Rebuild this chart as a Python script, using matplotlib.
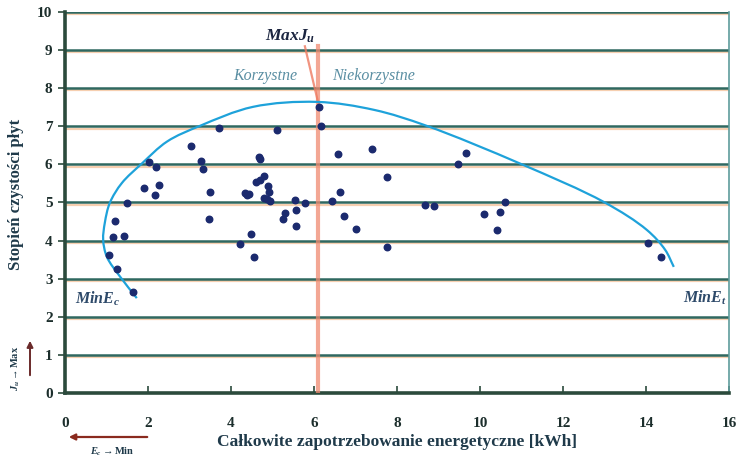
import matplotlib
matplotlib.use('Agg')
import matplotlib.pyplot as plt
import numpy as np
from matplotlib.path import Path
from matplotlib.patches import PathPatch, FancyArrowPatch

plt.rcParams['font.family'] = ['Liberation Serif', 'DejaVu Serif']
plt.rcParams['mathtext.fontset'] = 'custom'
plt.rcParams['mathtext.it'] = 'Liberation Serif:italic:bold'
plt.rcParams['mathtext.rm'] = 'Liberation Serif:bold'
plt.rcParams['mathtext.bf'] = 'Liberation Serif:bold'

# Punkty pomiarowe: energia [kWh] i stopień czystości
energia = [1.63, 1.26, 1.05, 1.15, 1.41, 1.21, 1.49, 1.90, 2.16, 2.27, 2.02, 2.20,
           3.04, 3.27, 3.33, 3.49, 3.46, 3.71, 4.22, 4.48, 4.55, 4.34, 4.44, 4.38,
           4.67, 4.70, 4.80, 4.70, 4.60, 4.88, 4.91, 4.80, 4.86, 4.94, 5.12, 5.55,
           5.79, 5.57, 5.31, 5.26, 5.56, 6.13, 6.17, 6.43, 6.59, 6.63, 6.73, 7.00,
           7.39, 7.75, 7.77, 8.68, 8.90, 9.47, 9.67, 10.10, 10.40, 10.49, 10.60,
           14.05, 14.35]
czystosc = [2.66, 3.25, 3.63, 4.09, 4.12, 4.51, 4.98, 5.39, 5.20, 5.46, 6.07, 5.94,
            6.49, 6.10, 5.87, 5.28, 4.57, 6.96, 3.90, 4.17, 3.58, 5.26, 5.21, 5.20,
            6.20, 6.13, 5.70, 5.59, 5.54, 5.43, 5.28, 5.13, 5.08, 5.05, 6.89, 5.07,
            4.99, 4.79, 4.72, 4.57, 4.38, 7.50, 7.00, 5.05, 6.26, 5.28, 4.64, 4.30,
            6.40, 5.67, 3.84, 4.93, 4.91, 6.00, 6.29, 4.70, 4.29, 4.75, 5.00,
            3.93, 3.58]

# Obwiednia (krzywa odręczna) - punkty
obw_x = [1.73, 1.33, 1.01, 0.92, 0.96, 1.08, 1.37, 1.85, 2.46, 3.25, 4.53, 6.07,
         7.45, 8.72, 10.99, 12.99, 14.02, 14.46, 14.67]
obw_y = [2.49, 3.05, 3.57, 4.02, 4.47, 4.99, 5.51, 6.02, 6.60, 7.01, 7.51, 7.64,
         7.43, 7.01, 6.01, 5.01, 4.28, 3.76, 3.31]

# Optimum MaxJu
opt_x = 6.1
opt_top = 9.1

fig = plt.figure(figsize=(7.48, 4.59), dpi=100)
ax = fig.add_axes([0.0869, 0.1438, 0.8877, 0.8301])

ax.set_xlim(0, 16)
ax.set_ylim(0, 10)

# linie siatki
grid_col = '#2f6860'
for yv in range(0, 11):
    ax.axhline(yv - 0.06, color='#f6cfb0', lw=1.6, zorder=1)
    ax.axhline(yv, color=grid_col, lw=1.8, zorder=2)

ax.spines['top'].set_visible(False)
ax.spines['right'].set_color('#5e9c9c')
ax.spines['right'].set_linewidth(1.2)
ax.spines['left'].set_color('#2b4a3c')
ax.spines['left'].set_linewidth(2.6)
ax.spines['bottom'].set_color('#2b4a3c')
ax.spines['bottom'].set_linewidth(2.6)

ax.set_xticks(range(0, 17, 2))
ax.set_yticks(range(0, 11))
ax.tick_params(axis='x', direction='in', length=5, width=1.2, color='#2b4a3c',
               pad=17, labelsize=11, labelcolor='#1c2e2c')
ax.tick_params(axis='y', direction='out', length=5, width=1.2, color='#2b4a3c',
               pad=4, labelsize=11, labelcolor='#1c2e2c')
for lab in ax.get_xticklabels() + ax.get_yticklabels():
    lab.set_fontweight('bold')

ax.set_xlabel('Całkowite zapotrzebowanie energetyczne [kWh]', fontsize=12.5,
              fontweight='bold', color='#1f3a4a', labelpad=3)
ax.set_ylabel('Stopień czystości płyt', fontsize=12, fontweight='bold',
              color='#1f3a4a')
ax.yaxis.set_label_coords(-0.062, 0.52)

# linia optimum
ax.plot([opt_x, opt_x], [0, opt_top], color='#f08a70', lw=3, alpha=0.75, zorder=3)
ax.plot([5.78, opt_x], [opt_top, 7.62], color='#ee7a60', lw=1.6, alpha=0.8, zorder=3)

# obwiednia - gładka krzywa (centripetal Catmull-Rom) przez odczytane punkty
pts = np.column_stack([obw_x, obw_y])
disp = ax.transData.transform(pts)
pts = np.vstack([2 * pts[0] - pts[1], pts, 2 * pts[-1] - pts[-2]])
disp = np.vstack([2 * disp[0] - disp[1], disp, 2 * disp[-1] - disp[-2]])
d = np.sqrt(np.linalg.norm(np.diff(disp, axis=0), axis=1))
verts = [tuple(pts[1])]
codes = [Path.MOVETO]
for i in range(1, len(pts) - 2):
    p0, p1, p2, p3 = pts[i - 1], pts[i], pts[i + 1], pts[i + 2]
    d0, d1, d2 = d[i - 1], d[i], d[i + 1]
    m1 = d1 * ((p1 - p0) / d0 - (p2 - p0) / (d0 + d1) + (p2 - p1) / d1)
    m2 = d1 * ((p2 - p1) / d1 - (p3 - p1) / (d1 + d2) + (p3 - p2) / d2)
    verts += [tuple(p1 + m1 / 3), tuple(p2 - m2 / 3), tuple(p2)]
    codes += [Path.CURVE4] * 3
ax.add_patch(PathPatch(Path(verts, codes), fill=False, edgecolor='#1ea2da',
                       lw=1.6, zorder=4))

ax.scatter(energia, czystosc, s=22, color='#1b2a6e', edgecolors='#1b2a6e',
           zorder=5)

# opisy
ax.text(5.42, 9.37, r'$MaxJ_u$', fontsize=12.5, color='#1b2540', ha='center',
        va='center', zorder=6)
ax.text(5.59, 8.32, 'Korzystne', fontsize=11.5, style='italic', color='#5b8fa3',
        ha='right', va='center', zorder=6)
ax.text(6.43, 8.32, 'Niekorzystne', fontsize=11.5, style='italic', color='#5b8fa3',
        ha='left', va='center', zorder=6)
ax.text(0.24, 2.47, r'$MinE_c$', fontsize=11.5, color='#2e4a6a', ha='left',
        va='center', zorder=6)
ax.text(15.95, 2.50, r'$MinE_t$', fontsize=11.5, color='#2e4a6a', ha='right',
        va='center', zorder=6)

# strzałki kierunków
fig.patches.append(FancyArrowPatch(
    (150 / 748, 1 - 437 / 459), (66 / 748, 1 - 437 / 459),
    transform=fig.transFigure, arrowstyle='-|>', mutation_scale=9,
    color='#8a2a1e', lw=1.6))
fig.text(112 / 748, 1 - 452 / 459, r'$E_c\rightarrow\mathrm{Min}$', fontsize=7.5,
         color='#1f3a4a', ha='center', va='center')
fig.patches.append(FancyArrowPatch(
    (30 / 748, 1 - 378 / 459), (30 / 748, 1 - 338 / 459),
    transform=fig.transFigure, arrowstyle='-|>', mutation_scale=9,
    color='#6a2a2a', lw=1.4))
fig.text(16 / 748, 1 - 368 / 459, r'$J_u\rightarrow\mathrm{Max}$', fontsize=7.5,
         color='#1f3a4a', ha='center', va='center', rotation=90)

fig.savefig('out.png', dpi=100)
